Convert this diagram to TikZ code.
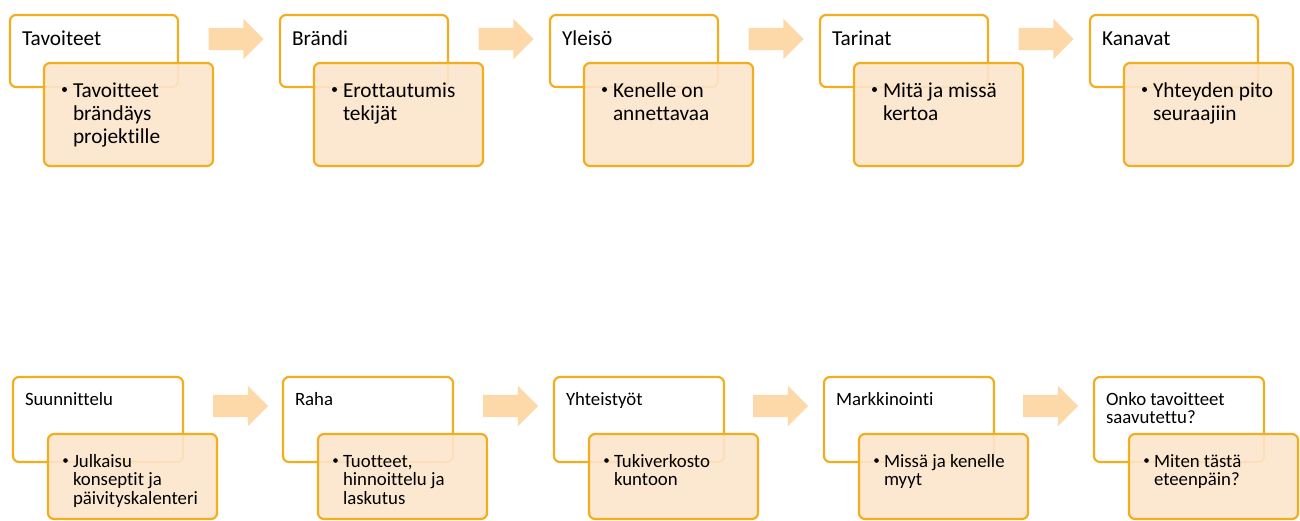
\documentclass[tikz,border=0pt]{standalone}
\usepackage{fontspec}
\setmainfont{Carlito}[Ligatures=NoCommon]
\usetikzlibrary{shapes.arrows}

\definecolor{gold}{RGB}{242,174,30}
\definecolor{peach}{RGB}{252,229,204}
\definecolor{pale}{RGB}{253,217,170}

\newcommand{\bigfont}{\fontsize{21.3}{23}\selectfont}
\newcommand{\smallfont}{\fontsize{18.8}{18.6}\selectfont}
\newcommand{\lines}[1]{\begin{tabular}[t]{@{}l@{}}#1\end{tabular}}

\begin{document}
\begin{tikzpicture}[x=1pt,y=-1pt]
            \tikzstyle{head}=[draw=gold, fill=white, line width=2.2pt,
            rounded corners=6pt, anchor=north west, inner sep=0pt, outer sep=0pt]
            \tikzstyle{sub}=[head, fill=peach, fill opacity=0.9]
            \tikzstyle{flow}=[single arrow, fill=pale, inner sep=11pt,
            minimum height=55pt, single arrow head extend=9pt]
            \tikzstyle{txt}=[anchor=base west, inner sep=0pt, outer sep=0pt]
            \tikzstyle{dot}=[circle, fill=black, inner sep=0pt, minimum size=5pt]
            \useasboundingbox (0,0) rectangle (1300,520);

            % upper row
            \node[head, minimum width=168pt, minimum height=72pt] (h1) at (10,15) {};
            \node[sub, minimum width=169pt, minimum height=103pt] (s1) at (44,63) {};
            \node[txt, font=\bigfont] (h1t) at (22,45) {Tavoiteet};
            \node[dot] (s1d) at (64.5,89.5) {};
            \node[txt, font=\bigfont] (s1t) at (73,97) {\lines{Tavoitteet\\brändäys\\projektille}};

            \node[head, minimum width=168pt, minimum height=72pt] (h2) at (280,15) {};
            \node[sub, minimum width=169pt, minimum height=103pt] (s2) at (314,63) {};
            \node[txt, font=\bigfont] (h2t) at (292,45) {Brändi};
            \node[dot] (s2d) at (334.5,89.5) {};
            \node[txt, font=\bigfont] (s2t) at (343,97) {\lines{Erottautumis\\tekijät}};

            \node[head, minimum width=168pt, minimum height=72pt] (h3) at (550,15) {};
            \node[sub, minimum width=169pt, minimum height=103pt] (s3) at (584,63) {};
            \node[txt, font=\bigfont] (h3t) at (562,45) {Yleisö};
            \node[dot] (s3d) at (604.5,89.5) {};
            \node[txt, font=\bigfont] (s3t) at (613,97) {\lines{Kenelle on\\annettavaa}};

            \node[head, minimum width=168pt, minimum height=72pt] (h4) at (820,15) {};
            \node[sub, minimum width=169pt, minimum height=103pt] (s4) at (854,63) {};
            \node[txt, font=\bigfont] (h4t) at (832,45) {Tarinat};
            \node[dot] (s4d) at (874.5,89.5) {};
            \node[txt, font=\bigfont] (s4t) at (883,97) {\lines{Mitä ja missä\\kertoa}};

            \node[head, minimum width=168pt, minimum height=72pt] (h5) at (1090,15) {};
            \node[sub, minimum width=169pt, minimum height=103pt] (s5) at (1124,63) {};
            \node[txt, font=\bigfont] (h5t) at (1102,45) {Kanavat};
            \node[dot] (s5d) at (1144.5,89.5) {};
            \node[txt, font=\bigfont] (s5t) at (1153,97) {\lines{Yhteyden pito\\seuraajiin}};

            \node[flow] (r1) at (230.5,39) {};
            \node[flow] (r2) at (500.5,39) {};
            \node[flow] (r3) at (770.5,39) {};
            \node[flow] (r4) at (1040.5,39) {};

            % lower row
            \node[head, minimum width=170pt, minimum height=85pt] (h6) at (13,377) {};
            \node[sub, minimum width=169pt, minimum height=85pt] (s6) at (48,434) {};
            \node[txt, font=\smallfont] (h6t) at (25,405) {Suunnittelu};
            \node[dot, minimum size=4.6pt] (s6d) at (65.5,460.5) {};
            \node[txt, font=\smallfont] (s6t) at (73,467) {\lines{Julkaisu\\konseptit ja\\päivityskalenteri}};

            \node[head, minimum width=170pt, minimum height=85pt] (h7) at (283,377) {};
            \node[sub, minimum width=169pt, minimum height=85pt] (s7) at (318,434) {};
            \node[txt, font=\smallfont] (h7t) at (295,405) {Raha};
            \node[dot, minimum size=4.6pt] (s7d) at (335.5,460.5) {};
            \node[txt, font=\smallfont] (s7t) at (343,467) {\lines{Tuotteet,\\hinnoittelu ja\\laskutus}};

            \node[head, minimum width=170pt, minimum height=85pt] (h8) at (554,377) {};
            \node[sub, minimum width=169pt, minimum height=85pt] (s8) at (589,434) {};
            \node[txt, font=\smallfont] (h8t) at (566,405) {Yhteistyöt};
            \node[dot, minimum size=4.6pt] (s8d) at (606.5,460.5) {};
            \node[txt, font=\smallfont] (s8t) at (614,467) {\lines{Tukiverkosto\\kuntoon}};

            \node[head, minimum width=170pt, minimum height=85pt] (h9) at (824,377) {};
            \node[sub, minimum width=169pt, minimum height=85pt] (s9) at (859,434) {};
            \node[txt, font=\smallfont] (h9t) at (836,405) {Markkinointi};
            \node[dot, minimum size=4.6pt] (s9d) at (876.5,460.5) {};
            \node[txt, font=\smallfont] (s9t) at (884,467) {\lines{Missä ja kenelle\\myyt}};

            \node[head, minimum width=170pt, minimum height=85pt] (h10) at (1094,377) {};
            \node[sub, minimum width=169pt, minimum height=85pt] (s10) at (1129,434) {};
            \node[txt, font=\smallfont] (h10t) at (1106,405) {\lines{Onko tavoitteet\\saavutettu?}};
            \node[dot, minimum size=4.6pt] (s10d) at (1146.5,460.5) {};
            \node[txt, font=\smallfont] (s10t) at (1154,467) {\lines{Miten tästä\\eteenpäin?}};

            \node[flow] (r5) at (235,406) {};
            \node[flow] (r6) at (505,406) {};
            \node[flow] (r7) at (775,406) {};
            \node[flow] (r8) at (1045,406) {};
        \end{tikzpicture}
\end{document}
